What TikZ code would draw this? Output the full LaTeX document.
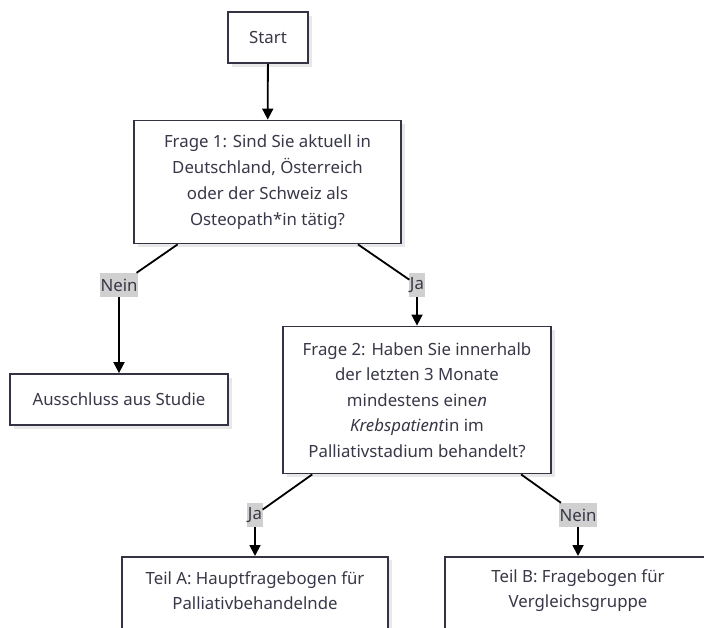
\documentclass[tikz,border=0pt]{standalone}
\usepackage{fontspec}
\setmainfont{Noto Sans}
\usetikzlibrary{arrows.meta,shadows}
\definecolor{bordercol}{HTML}{333344}
\definecolor{textcol}{HTML}{383848}
\definecolor{labelbg}{HTML}{D0D0D0}
\begin{document}
\begin{tikzpicture}[x=1pt,y=-1pt,
  box/.style={draw=bordercol,line width=1.8pt,fill=white,rectangle,inner sep=0pt,
    align=center,text=textcol,font=\fontsize{16.8}{25.5}\selectfont,
    general shadow={fill=black!9,shadow xshift=3.5pt,shadow yshift=-3.5pt}},
  txt/.style={align=center,text=textcol,font=\fontsize{16.8}{25}\selectfont,inner sep=0pt},
  lab/.style={fill=labelbg,text=textcol,font=\fontsize{16.8}{17}\selectfont,inner xsep=0.5pt,inner ysep=0pt,minimum height=24pt},
  edge/.style={draw=black,line width=1.8pt},
  arr/.style={edge,-{Triangle[width=11pt,length=11pt]}}]
\useasboundingbox (0,0) rectangle (704,627);
\clip (0,0) rectangle (704,627);
\fill[white] (0,0) rectangle (704,627);

\node[box,minimum width=80pt,minimum height=51pt] (start) at (268,37.5) {Start};
\node[box,minimum width=267pt,minimum height=123pt,font=\fontsize{16.8}{26}\selectfont] (q1) at (267.5,182)
  {Frage 1: Sind Sie aktuell in\\Deutschland, Österreich\\oder der Schweiz als\\Osteopath*in tätig?};
\node[box,minimum width=218pt,minimum height=51pt] (ex) at (119,399.5) {Ausschluss aus Studie};
\node[box,minimum width=268pt,minimum height=147pt] (q2) at (417,400)
  {Frage 2: Haben Sie innerhalb\\der letzten 3 Monate\\mindestens eine\textit{n}\\\textit{Krebspatient}in im\\Palliativstadium behandelt?};
\node[box,minimum width=266pt,minimum height=100pt,anchor=north] (ta) at (255,556) {};
\node[txt] (tatext) at (255,590.5) {Teil A: Hauptfragebogen für\\Palliativbehandelnde};
\node[box,minimum width=266pt,minimum height=100pt,anchor=north] (tb) at (578,556) {};
\node[txt] (tbtext) at (578,590.5) {Teil B: Fragebogen für\\Vergleichsgruppe};

\node[lab] (l1) at (119,285) {Nein};
\node[lab] (l2) at (417,285) {Ja};
\node[lab] (l3) at (255,515) {Ja};
\node[lab] (l4) at (578,515) {Nein};

\draw[arr] (start) -- (q1);
\draw[edge] (q1) -- (l1);
\draw[arr] (l1) -- (ex);
\draw[edge] (q1) -- (l2);
\draw[arr] (l2) -- (q2);
\draw[edge] (q2) -- (l3);
\draw[arr] (l3) -- (ta);
\draw[edge] (q2) -- (l4);
\draw[arr] (l4) -- (tb);
\end{tikzpicture}
\end{document}
